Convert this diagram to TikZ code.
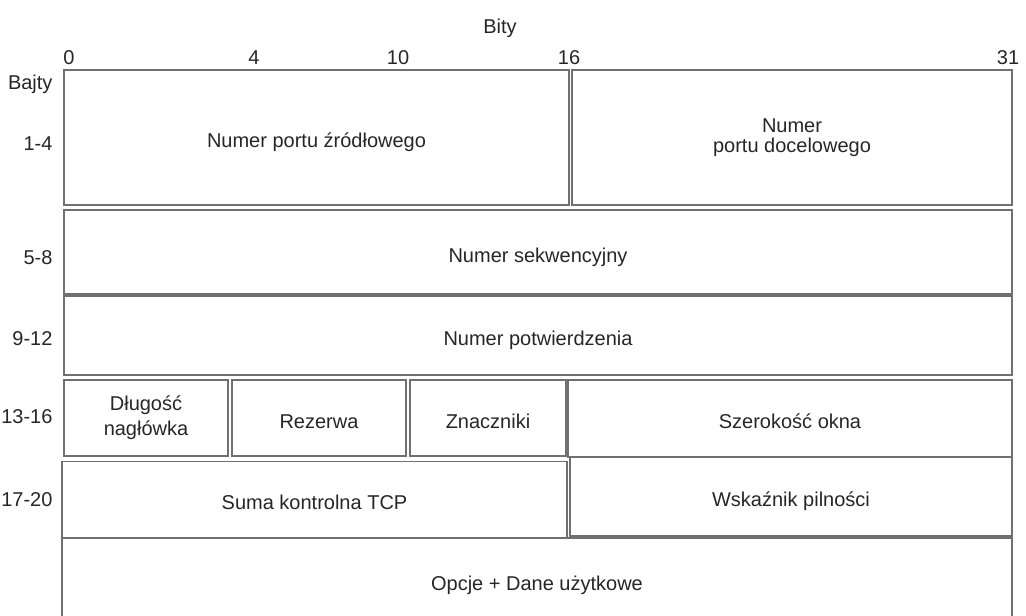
\documentclass[tikz,border=0pt]{standalone}
\usepackage{fontspec}
\setmainfont{Liberation Sans}
\definecolor{ramka}{RGB}{112,112,112}
\definecolor{tekst}{RGB}{38,38,38}

\begin{document}
\begin{tikzpicture}[x=1pt, y=-1pt,
		pole/.style={draw=ramka, line width=1.2pt, inner sep=0pt, align=center,
			text=tekst, font=\fontsize{20}{20}\selectfont},
		linia/.style={text height=20pt, text depth=0pt},
		opis/.style={text=tekst, font=\fontsize{20}{20}\selectfont, anchor=base}]
		\useasboundingbox (0,0) rectangle (1026,616);
		
		% Bity
		\node[opis] (bity) at (500,33) {Bity};
		\foreach \b/\x in {0/69, 4/254, 10/398, 16/569, 31/1008}{
			\node[opis] (bit\b) at (\x,64) {\b};}
		
		% Bajty
		\foreach \r/\y [count=\i] in {Bajty/89, 1-4/150.5, 5-8/264, 9-12/345, 13-16/423.5, 17-20/506}{
			\node[opis, anchor=base east] (bajt\i) at (56,\y) {\r};}
		
		% Wiersz 1
		\node[pole, linia, minimum width=505, minimum height=135] (zrodlo) at (316.5,137.5) {Numer portu źródłowego};
		\node[pole, minimum width=440, minimum height=135] (cel) at (792,137.5) {Numer\\portu docelowego};
		
		% Wiersze 2-3
		\node[pole, linia, minimum width=948, minimum height=84] (sekw) at (538,252) {Numer sekwencyjny};
		\node[pole, linia, minimum width=948, minimum height=79] (potw) at (538,335.5) {Numer potwierdzenia};
		
		% Wiersz 4
		\node[pole, font=\fontsize{20}{25}\selectfont, minimum width=164, minimum height=76] (dlug) at (146,418) {Długość\\nagłówka};
		\node[pole, linia, minimum width=174, minimum height=76] (rez) at (319,418) {Rezerwa};
		\node[pole, linia, minimum width=156, minimum height=76] (znacz) at (488,418) {Znaczniki};
		\node[pole, linia, minimum width=444, minimum height=77] (okno) at (790,418.5) {Szerokość okna};
		
		% Wiersz 5
		\node[pole, linia, minimum width=505, minimum height=76] (suma) at (314.5,499.5) {Suma kontrolna TCP};
		\node[pole, linia, minimum width=442, minimum height=79] (pilne) at (791,496.5) {Wskaźnik pilności};
		
		% Wiersz 6
		\node[pole, linia, minimum width=950, minimum height=85] (dane) at (537,580.5) {Opcje + Dane użytkowe};
	\end{tikzpicture}
\end{document}
